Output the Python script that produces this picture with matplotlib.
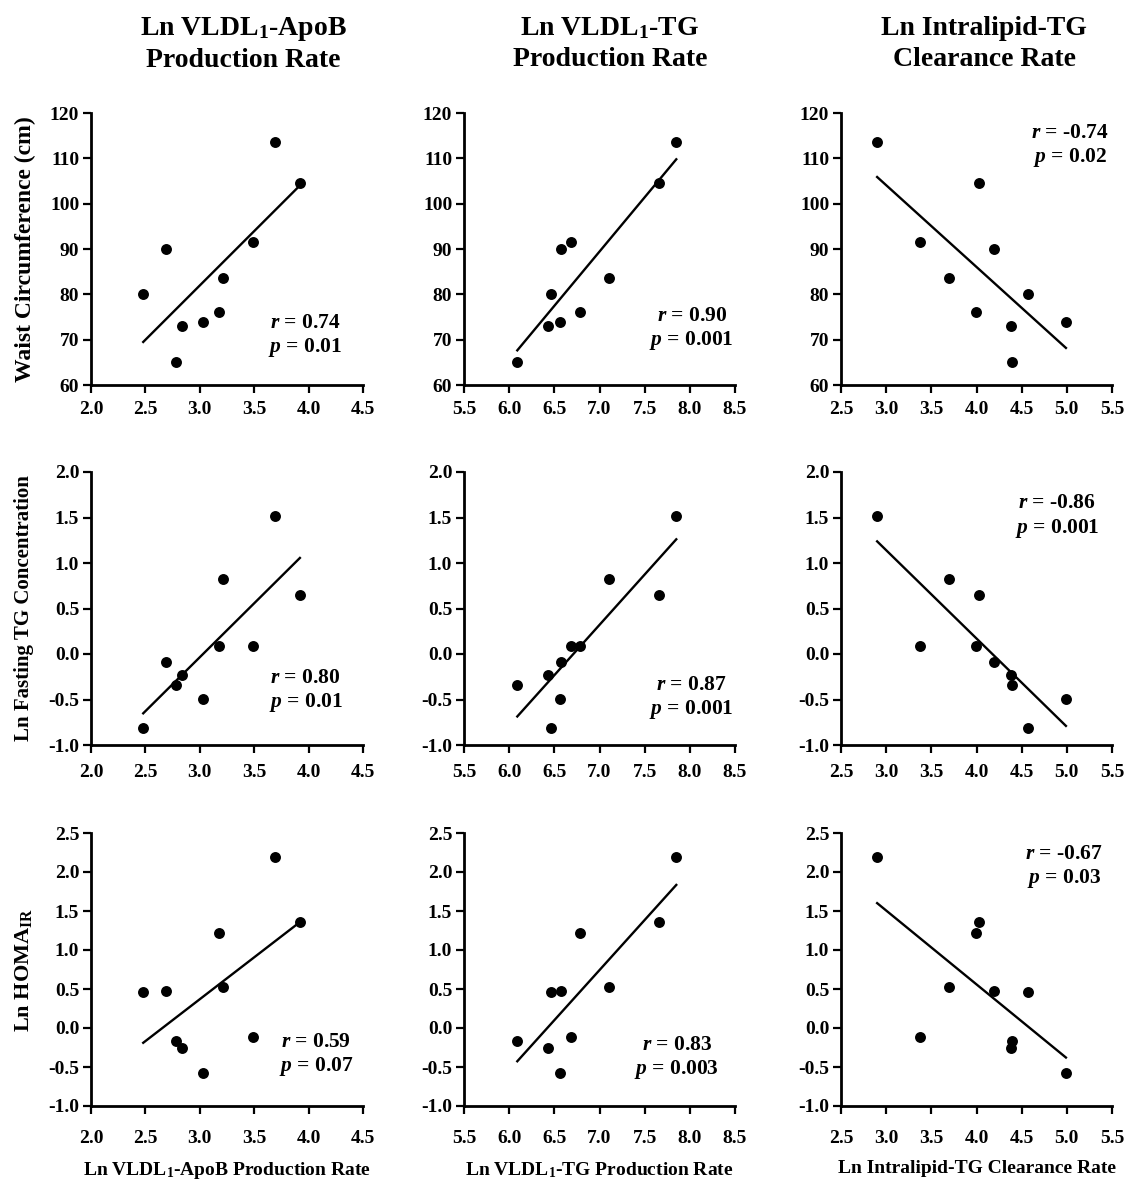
import numpy as np
import matplotlib
matplotlib.use("Agg")
import matplotlib.pyplot as plt
from matplotlib.ticker import FormatStrFormatter

plt.rcParams['font.family'] = ['Liberation Serif', 'DejaVu Serif']
plt.rcParams['font.weight'] = 'bold'
plt.rcParams['mathtext.fontset'] = 'custom'
plt.rcParams['mathtext.rm'] = 'Liberation Serif:bold'
plt.rcParams['mathtext.bf'] = 'Liberation Serif:bold'
plt.rcParams['mathtext.it'] = 'Liberation Serif:italic:bold'
plt.rcParams['axes.unicode_minus'] = False

# ---- data (one entry per subject) ----
apob_pr = [2.78, 2.84, 3.03, 3.18, 2.48, 3.21, 2.69, 3.49, 3.92, 3.69]
tg_pr = [6.09, 6.43, 6.56, 6.78, 6.46, 7.11, 6.57, 6.68, 7.66, 7.85]
intralipid_cr = [4.39, 4.38, 4.99, 3.99, 4.57, 3.70, 4.19, 3.38, 4.03, 2.90]
waist = [65, 73, 74, 76, 80, 83.5, 90, 91.5, 104.5, 113.5]
fasting_tg = [-0.34, -0.235, -0.49, 0.087, -0.81, 0.82, -0.085, 0.083, 0.65, 1.52]
homa_ir = [-0.17, -0.26, -0.58, 1.215, 0.457, 0.525, 0.469, -0.109, 1.365, 2.187]

col_titles = ["Ln VLDL$_{1}$-ApoB\nProduction Rate",
              "Ln VLDL$_{1}$-TG\nProduction Rate",
              "Ln Intralipid-TG\nClearance Rate"]
x_labels = ["Ln VLDL$_{1}$-ApoB Production Rate",
            "Ln VLDL$_{1}$-TG Production Rate",
            "Ln Intralipid-TG Clearance Rate"]
y_labels = ["Waist Circumference (cm)",
            "Ln Fasting TG Concentration",
            "Ln HOMA$_{\\mathrm{IR}}$"]
x_ticks = [[2.0, 2.5, 3.0, 3.5, 4.0, 4.5],
           [5.5, 6.0, 6.5, 7.0, 7.5, 8.0, 8.5],
           [2.5, 3.0, 3.5, 4.0, 4.5, 5.0, 5.5]]
y_ticks = [[60, 70, 80, 90, 100, 110, 120],
           [-1.0, -0.5, 0.0, 0.5, 1.0, 1.5, 2.0],
           [-1.0, -0.5, 0.0, 0.5, 1.0, 1.5, 2.0, 2.5]]
r_values = [["0.74", "0.90", "-0.74"],
            ["0.80", "0.87", "-0.86"],
            ["0.59", "0.83", "-0.67"]]
p_values = [["0.01", "0.001", "0.02"],
            ["0.01", "0.001", "0.001"],
            ["0.07", "0.003", "0.03"]]

xs = [apob_pr, tg_pr, intralipid_cr]
ys = [waist, fasting_tg, homa_ir]

# ---- layout ----
W, H = 1138, 1194
fig = plt.figure(figsize=(W / 100, H / 100), dpi=100)
col_px = [(91, 363), (464, 735), (841, 1112)]
row_px = [(113, 385), (472, 745), (833, 1106)]
# stat text centres (axes fraction): x, y line1, y line2
stat_pos = [[(0.788, 0.229, 0.139), (0.840, 0.254, 0.163), (0.845, 0.925, 0.837)],
            [(0.789, 0.244, 0.155), (0.840, 0.220, 0.131), (0.798, 0.885, 0.794)],
            [(0.827, 0.236, 0.144), (0.785, 0.223, 0.134), (0.823, 0.923, 0.834)]]
title_x = [0.559, 0.539, 0.528]
xtick_pad = [6, 8, 12]
ylabel_size = [17, 15, 16]

for i in range(3):
    for j in range(3):
        l, r = col_px[j]
        t, b = row_px[i]
        ax = fig.add_axes([l / W, 1 - b / H, (r - l) / W, (b - t) / H])
        x = np.array(xs[j], dtype=float)
        y = np.array(ys[i], dtype=float)
        ax.scatter(x, y, s=62, color='black', zorder=3, linewidths=0)
        k, c = np.polyfit(x, y, 1)
        xl = np.array([x.min(), x.max()])
        ax.plot(xl, k * xl + c, color='black', lw=1.7, zorder=2)
        ax.set_xlim(x_ticks[j][0], x_ticks[j][-1])
        ax.set_ylim(y_ticks[i][0], y_ticks[i][-1])
        ax.set_xticks(x_ticks[j])
        ax.set_yticks(y_ticks[i])
        ax.xaxis.set_major_formatter(FormatStrFormatter('%.1f'))
        if i == 0:
            ax.yaxis.set_major_formatter(FormatStrFormatter('%d'))
        else:
            ax.yaxis.set_major_formatter(FormatStrFormatter('%.1f'))
        for s in ['top', 'right']:
            ax.spines[s].set_visible(False)
        for s in ['left', 'bottom']:
            ax.spines[s].set_linewidth(2.0)
        ax.tick_params(axis='both', direction='out', length=5.5, width=1.6,
                       labelsize=14)
        ax.tick_params(axis='x', pad=xtick_pad[i])
        ax.tick_params(axis='y', pad=3)
        for lab in ax.get_xticklabels() + ax.get_yticklabels():
            lab.set_fontweight('bold')
        sx, sy1, sy2 = stat_pos[i][j]
        ax.text(sx, sy1, "$r$ = " + r_values[i][j], transform=ax.transAxes,
                ha='center', va='center', fontsize=15.5, fontweight='bold')
        ax.text(sx, sy2, "$p$ = " + p_values[i][j], transform=ax.transAxes,
                ha='center', va='center', fontsize=15.5, fontweight='bold')
        if i == 0:
            ax.text(title_x[j], 1.0 + 69 / (b - t), col_titles[j],
                    transform=ax.transAxes, ha='center', va='center',
                    fontsize=20, fontweight='bold', linespacing=1.3)
        if i == 2:
            ax.set_xlabel(x_labels[j], fontsize=14, fontweight='bold',
                          labelpad=9)
        if j == 0:
            ax.set_ylabel(y_labels[i], fontsize=ylabel_size[i],
                          fontweight='bold', labelpad=10)

fig.savefig("out.png", dpi=100)
